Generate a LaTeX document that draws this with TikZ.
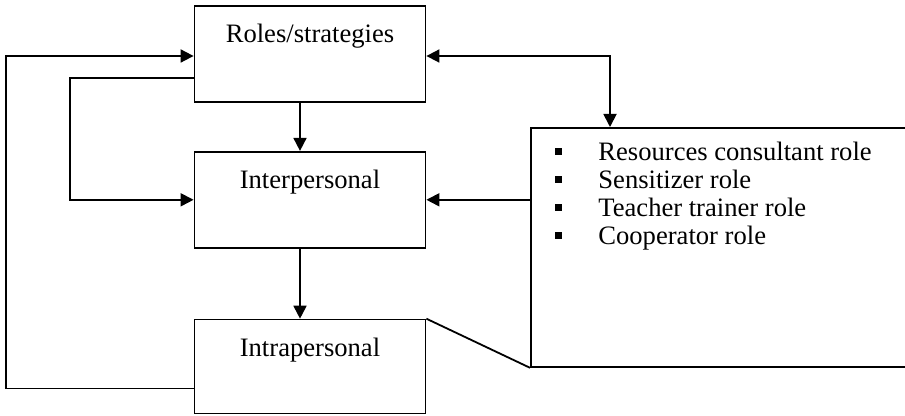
\documentclass[tikz,border=0pt]{standalone}
\usepackage{fontspec}
\setmainfont{Liberation Serif}
\usetikzlibrary{positioning,arrows.meta}
\newcommand{\sqbullet}{\makebox[21.5pt][l]{\raisebox{3pt}{\rule{3.3pt}{3.3pt}}}}
\tikzset{
  basic/.style = {draw, line width=0.9pt, font=\fontsize{13.3pt}{14pt}\selectfont},
  box/.style   = {basic, rectangle, inner sep=0pt, minimum width=115.5pt,
                  text height=18.5pt, text depth=29.5pt, align=center},
  panel/.style = {basic, rectangle, inner sep=0pt, minimum width=195pt, minimum height=119.5pt},
  item/.style  = {inner sep=0pt, font=\fontsize{13.3pt}{14pt}\selectfont},
  flow/.style  = {draw, line width=0.9pt, -{Triangle[length=6.5pt,width=6.5pt]}},
  flow2/.style = {draw, line width=0.9pt, {Triangle[length=6.5pt,width=6.5pt]}-{Triangle[length=6.5pt,width=6.5pt]}}
}

\begin{document}
\begin{tikzpicture}[x=0.5pt, y=-0.5pt]
    \useasboundingbox (0,0) rectangle (905,416);
    % boxes
    \node [box] (roles) at (310,54) {Roles/strategies};
    \node [box, below=24pt of roles] (inter) {Interpersonal};
    \node [box, below=35pt of inter, text depth=28.5pt] (intra) {Intrapersonal};
    \node [panel, anchor=north west] (panel) at (530,127) {};
    \foreach \txt [count=\i, evaluate=\i as \dy using -17-(\i-1)*14] in
        {Resources consultant role, Sensitizer role, Teacher trainer role, Cooperator role}
        \node [item, anchor=base west] (role\i) at ([xshift=12.5pt, yshift=\dy pt]panel.north west) {\sqbullet\txt};
    % connectors
    \draw [flow] ([yshift=-11pt]intra.west) -- ++(-188,0) |- ([yshift=-1pt]roles.west);
    \draw [flow] ([yshift=-12pt]roles.west) -- ++(-124,0) |- (inter.west);
    \draw [flow] ([xshift=-5pt]roles.south) -- ([xshift=-5pt]inter.north);
    \draw [flow] ([xshift=-5pt]inter.south) -- ([xshift=-5pt]intra.north);
    \draw [flow2] ([yshift=-1pt]roles.east) -| ([xshift=40pt]panel.north west);
    \draw [flow] (panel.west |- inter.east) -- (inter.east);
    \draw [line width=0.9pt] (intra.north east) -- (panel.south west);
\end{tikzpicture}
\end{document}
